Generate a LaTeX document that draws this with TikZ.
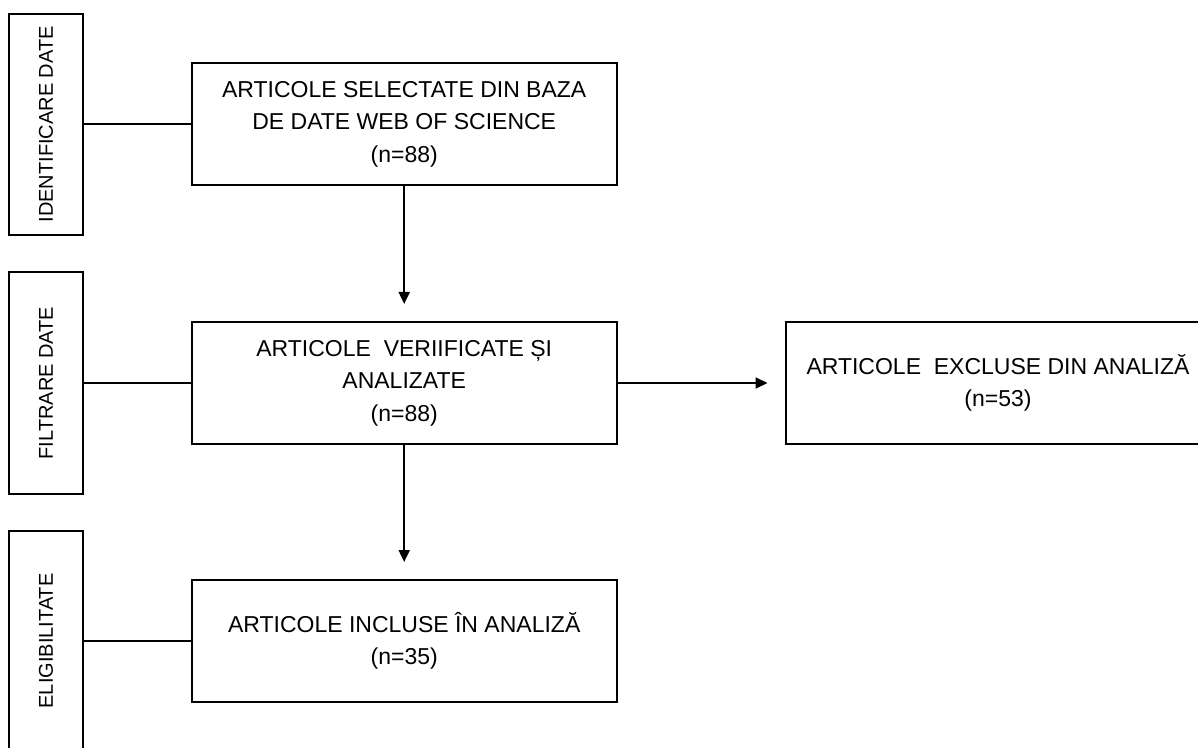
\documentclass[tikz,border=0pt]{standalone}
\usepackage{fontspec}
\setmainfont{Liberation Sans}
\usetikzlibrary{arrows.meta}

\begin{document}
\begin{tikzpicture}[x=0.5pt,y=-0.5pt,
  box/.style={draw,line width=1pt,minimum width=212.5pt,minimum height=61pt,inner sep=0pt,align=center,font=\fontsize{11.5}{16.2}\selectfont},
  side/.style={draw,line width=1pt,rotate=90,minimum width=110.5pt,minimum height=36.7pt,inner sep=0pt,font=\fontsize{10}{12}\selectfont},
  arr/.style={line width=1pt,-{Triangle[length=6pt,width=5.5pt]},shorten >=8.5pt}]

\useasboundingbox (0,0) rectangle (1198,748);

\node[side] (ident) at (46,124.3) {IDENTIFICARE DATE};
\node[side] (filtr) at (46,383) {FILTRARE DATE};
\node[side] (elig) at (46,641) {ELIGIBILITATE};

\node[box] (selectate) at (404.2,124.3) {ARTICOLE SELECTATE DIN BAZA\\DE DATE WEB OF SCIENCE\\(n=88)};
\node[box] (verificate) at (404.2,383) {ARTICOLE\ \ VERIIFICATE ȘI\\ANALIZATE\\(n=88)};
\node[box] (excluse) at (998,383) {ARTICOLE\ \ EXCLUSE DIN ANALIZĂ\\(n=53)};
\node[box] (incluse) at (404.2,641) {ARTICOLE INCLUSE ÎN ANALIZĂ\\(n=35)};

\draw[line width=1pt] (ident) -- (selectate);
\draw[line width=1pt] (filtr) -- (verificate);
\draw[line width=1pt] (elig) -- (incluse);

\draw[arr] (selectate) -- (verificate);
\draw[arr] (verificate) -- (excluse);
\draw[arr] (verificate) -- (incluse);
\end{tikzpicture}
\end{document}
